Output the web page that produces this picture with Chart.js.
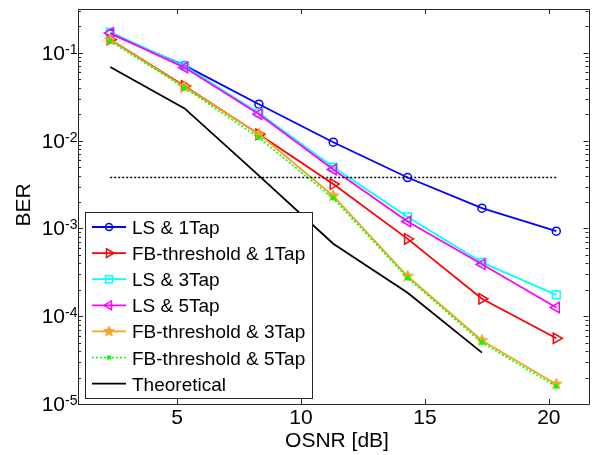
<!DOCTYPE html>
<html>
<head>
<meta charset="utf-8">
<script src="https://cdn.jsdelivr.net/npm/chart.js@4"></script>
<style>
  html, body { margin: 0; padding: 0; background: #fff; }
  #wrap { width: 596px; height: 455px; }
</style>
</head>
<body>
<div id="wrap"><canvas id="ber"></canvas></div>
<script>
// OSNR sweep points [dB]
const osnr = [2.3, 5.3, 8.3, 11.3, 14.3, 17.3, 20.3];
const osnrTheory = [2.3, 5.3, 8.3, 11.3, 14.3, 17.3];

// measured BER per equalizer setting
const lsTap1 = [0.165, 0.072, 0.026, 0.0096, 0.0038, 0.0017, 0.00093];
const fbTap1 = [0.142, 0.042, 0.0118, 0.0032, 0.00076, 0.000158, 0.000056];
const lsTap3 = [0.172, 0.071, 0.0207, 0.0050, 0.00135, 0.00041, 0.000175];
const lsTap5 = [0.168, 0.068, 0.0200, 0.0047, 0.00120, 0.00039, 0.000126];
const fbTap3 = [0.141, 0.041, 0.0119, 0.00235, 0.000285, 0.000053, 0.0000168];
const fbTap5 = [0.136, 0.040, 0.0108, 0.0022, 0.000272, 0.000050, 0.0000158];
const theory = [0.069, 0.0233, 0.0040, 0.00067, 0.000185, 0.0000385];

// FEC threshold
const fecLimit = 0.0038;
const fecSpan = [2.3, 20.3];

const seriesNames = ['LS & 1Tap', 'FB-threshold & 1Tap', 'LS & 3Tap', 'LS & 5Tap',
  'FB-threshold & 3Tap', 'FB-threshold & 5Tap', 'Theoretical'];

const xTicks = [5, 10, 15, 20];
const yExponents = [-1, -2, -3, -4, -5];

const FONT = '"Liberation Sans", Arial, sans-serif';
const ORANGE = '#eea520';

// pentagram marker
function makeStar(r, color) {
  const c = document.createElement('canvas');
  const s = Math.ceil(r * 2 + 4);
  c.width = s; c.height = s;
  const g = c.getContext('2d');
  g.beginPath();
  for (let i = 0; i < 10; i++) {
    const rr = i % 2 === 0 ? r : r * 0.42;
    const a = -Math.PI / 2 + i * Math.PI / 5;
    const px = s / 2 + rr * Math.cos(a), py = s / 2 + rr * Math.sin(a);
    if (i === 0) g.moveTo(px, py); else g.lineTo(px, py);
  }
  g.closePath();
  g.fillStyle = color;
  g.strokeStyle = color;
  g.lineWidth = 1;
  g.fill();
  g.stroke();
  return c;
}
const starMarker = makeStar(6, ORANGE);
const starLegend = makeStar(5.5, ORANGE);

function pts(xs, ys) {
  return ys.map((v, i) => ({ x: xs[i], y: v }));
}

function series(label, data, color, opts) {
  return Object.assign({
    label: label,
    data: data,
    borderColor: color,
    backgroundColor: color,
    pointBorderColor: color,
    pointBackgroundColor: 'rgba(0,0,0,0)',
    borderWidth: 1.8,
    pointBorderWidth: 1.5,
    pointRadius: 4,
    pointHoverRadius: 4,
    tension: 0,
    fill: false
  }, opts || {});
}

const datasets = [
  series(seriesNames[0], pts(osnr, lsTap1), '#0000ff', { pointStyle: 'circle', pointRadius: 4 }),
  series(seriesNames[1], pts(osnr, fbTap1), '#ff0000', { pointStyle: 'triangle', pointRotation: 90, pointRadius: 6 }),
  series(seriesNames[2], pts(osnr, lsTap3), '#00ffff', { pointStyle: 'rect', pointRadius: 5.5 }),
  series(seriesNames[3], pts(osnr, lsTap5), '#ff00ff', { pointStyle: 'triangle', pointRotation: -90, pointRadius: 6 }),
  series(seriesNames[4], pts(osnr, fbTap3), ORANGE, { pointStyle: starMarker }),
  series(seriesNames[5], pts(osnr, fbTap5), '#00ff00', { pointStyle: 'circle', pointRadius: 1.6, pointBackgroundColor: '#00ff00', borderDash: [2, 2], borderWidth: 1.6 }),
  series(seriesNames[6], pts(osnrTheory, theory), '#000000', { pointRadius: 0 }),
  series('', pts(fecSpan, [fecLimit, fecLimit]), '#000000', { pointRadius: 0, borderDash: [2, 2], borderWidth: 1.5 })
];
// later series sit on top
datasets.forEach((d, i) => { d.order = -i; });

function putText(ctx, text, x, y, size, align, baseline) {
  ctx.save();
  ctx.font = size + 'px ' + FONT;
  ctx.textAlign = align;
  ctx.textBaseline = baseline;
  ctx.fillStyle = '#000';
  ctx.fillText(text, x, y);
  ctx.restore();
}

// MATLAB-style box axes with inward ticks, plus the legend
const boxAxes = {
  id: 'boxAxes',
  afterDatasetsDraw(chart) {
    const { ctx, chartArea: a, scales: { x, y } } = chart;
    ctx.save();
    ctx.strokeStyle = '#262626';
    ctx.lineWidth = 1;
    ctx.beginPath();
    ctx.rect(Math.round(a.left) + 0.5, Math.round(a.top) + 0.5,
      Math.round(a.right - a.left), Math.round(a.bottom - a.top));
    ctx.stroke();

    ctx.beginPath();
    xTicks.forEach(v => {
      const px = Math.round(x.getPixelForValue(v)) + 0.5;
      ctx.moveTo(px, a.bottom); ctx.lineTo(px, a.bottom - 5);
      ctx.moveTo(px, a.top); ctx.lineTo(px, a.top + 5);
    });
    for (let e = -5; e <= 0; e++) {
      for (let k = 1; k <= 9; k++) {
        const v = k * Math.pow(10, e);
        if (v < y.min * 0.999 || v > y.max) continue;
        const py = Math.round(y.getPixelForValue(v)) + 0.5;
        const len = k === 1 ? 5 : 3;
        ctx.moveTo(a.left, py); ctx.lineTo(a.left + len, py);
        ctx.moveTo(a.right, py); ctx.lineTo(a.right - len, py);
      }
    }
    ctx.stroke();
    ctx.restore();

    // tick labels
    xTicks.forEach(v => {
      putText(ctx, String(v), x.getPixelForValue(v), a.bottom + 20, 21, 'center', 'alphabetic');
    });
    yExponents.forEach(e => {
      const py = y.getPixelForValue(Math.pow(10, e));
      putText(ctx, '10', 65, py + 7, 21, 'right', 'alphabetic');
      putText(ctx, '-' + Math.abs(e), 65, py + 1, 14, 'left', 'alphabetic');
    });

    // axis titles
    putText(ctx, 'OSNR [dB]', 337, 447, 21, 'center', 'alphabetic');
    ctx.save();
    ctx.translate(30, 205);
    ctx.rotate(-Math.PI / 2);
    putText(ctx, 'BER', 0, 0, 21, 'center', 'alphabetic');
    ctx.restore();

    // legend
    const lx = 85, ly = 212, lw = 227, lh = 186;
    ctx.save();
    ctx.fillStyle = '#fff';
    ctx.fillRect(lx, ly, lw, lh);
    ctx.strokeStyle = '#262626';
    ctx.lineWidth = 1;
    ctx.strokeRect(lx + 0.5, ly + 0.5, lw, lh);
    ctx.restore();
    for (let i = 0; i < 7; i++) {
      const d = chart.data.datasets[i];
      const cy = 227 + i * 26.1;
      ctx.save();
      ctx.strokeStyle = d.borderColor;
      ctx.lineWidth = d.borderWidth;
      ctx.setLineDash(d.borderDash || []);
      ctx.beginPath();
      ctx.moveTo(92, cy); ctx.lineTo(126, cy);
      ctx.stroke();
      ctx.setLineDash([]);
      if (d.pointRadius > 0) {
        ctx.strokeStyle = d.pointBorderColor;
        ctx.fillStyle = d.pointBackgroundColor;
        ctx.lineWidth = d.pointBorderWidth;
        const style = d.pointStyle === starMarker ? starLegend : d.pointStyle;
        const r = typeof style === 'string' ? Math.min(d.pointRadius, 5) : d.pointRadius;
        Chart.helpers.drawPoint(ctx, { pointStyle: style, rotation: d.pointRotation || 0, radius: style === 'circle' && d.pointRadius > 2 ? 3.5 : r, borderWidth: d.pointBorderWidth }, 109, cy);
      }
      ctx.restore();
      putText(ctx, d.label, 132, cy + 7, 19, 'left', 'alphabetic');
    }
  }
};

new Chart(document.getElementById('ber'), {
  type: 'line',
  data: { datasets: datasets },
  options: {
    responsive: true,
    maintainAspectRatio: false,
    animation: false,
    layout: { padding: { left: 78, top: 9, right: 7, bottom: 51 } },
    plugins: { legend: { display: false }, tooltip: { enabled: false } },
    scales: {
      x: { type: 'linear', min: 1, max: 21.6, display: false },
      y: { type: 'logarithmic', min: 1e-5, max: 0.316, display: false }
    }
  },
  plugins: [boxAxes]
});
</script>
</body>
</html>
